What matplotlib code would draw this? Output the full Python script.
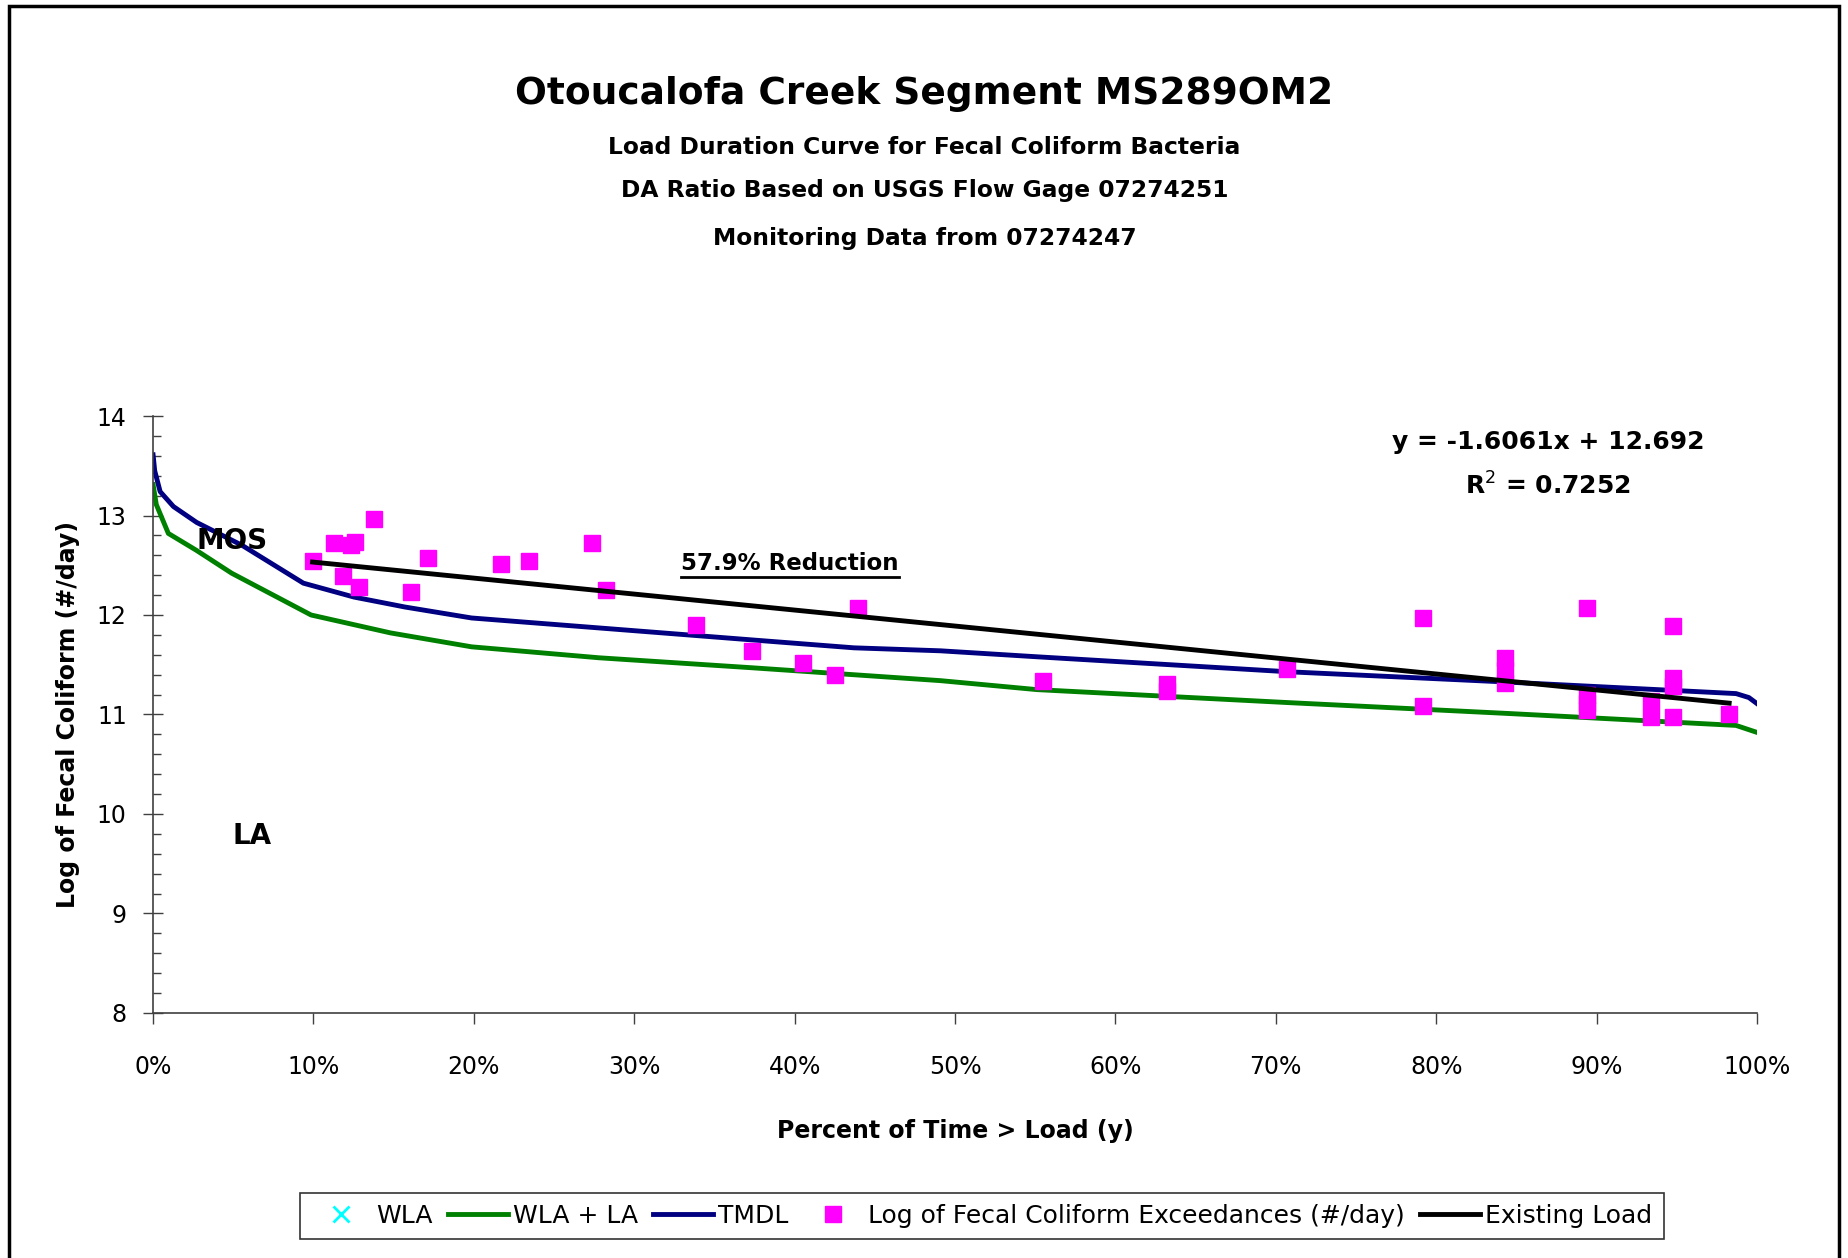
import numpy as np
import matplotlib.pyplot as plt
from matplotlib.ticker import MultipleLocator, PercentFormatter
from matplotlib.patches import Rectangle
from matplotlib.lines import Line2D

# flow duration percent (0-100) and log loads
tmdl_pct = [0, 0.1, 0.44, 1.27, 2.72, 5.55, 9.37, 12.53, 15.71, 19.86, 27.8,
            37.3, 43.7, 49.1, 55.1, 70.7, 83.9, 98.7, 99.5, 100]
tmdl_log = [13.61, 13.45, 13.24, 13.09, 12.93, 12.70, 12.32, 12.18, 12.08, 11.97,
            11.87, 11.75, 11.67, 11.64, 11.58, 11.43, 11.33, 11.21, 11.17, 11.11]

wla_la_pct = [0, 0.2, 0.95, 2.7, 4.9, 9.85, 14.8, 19.86, 27.8, 37.3, 49.1, 55.1,
              70.7, 84.5, 98.7, 100]
wla_la_log = [13.31, 13.11, 12.82, 12.65, 12.42, 12.00, 11.82, 11.68, 11.57,
              11.47, 11.34, 11.25, 11.12, 11.01, 10.89, 10.82]

exc_pct = [9.94, 11.25, 11.85, 12.33, 12.58, 12.84, 13.76, 16.05, 17.16, 21.68,
           23.46, 27.37, 28.23, 33.86, 37.36, 40.54, 42.51, 43.98, 55.49, 63.19,
           63.19, 70.69, 79.15, 79.15, 84.29, 84.29, 84.29, 89.38, 89.38, 89.38,
           89.38, 93.37, 93.37, 94.78, 94.78, 94.78, 94.78, 98.27]
exc_log = [12.54, 12.72, 12.39, 12.70, 12.73, 12.28, 12.96, 12.23, 12.57, 12.51,
           12.54, 12.72, 12.25, 11.90, 11.64, 11.52, 11.40, 12.07, 11.34, 11.31,
           11.24, 11.46, 11.97, 11.085, 11.57, 11.45, 11.32, 12.07, 11.20, 11.12,
           11.05, 11.14, 10.97, 11.89, 11.37, 11.29, 10.97, 11.00]

# trendline given on the chart
slope = -1.6061
intercept = 12.692
r2 = 0.7252

x_tmdl = np.array(tmdl_pct) / 100
x_wla = np.array(wla_la_pct) / 100
x_exc = np.array(exc_pct) / 100
x_fit = np.array([x_exc.min(), x_exc.max()])
y_fit = slope * x_fit + intercept

fig = plt.figure(figsize=(18.49, 12.58), dpi=100)
ax = fig.add_axes([0.0828, 0.1948, 0.8674, 0.4745])

ax.plot([], [], 'x', color='#00FFFF', ms=11, mew=2, label='WLA')
ax.plot(x_wla, wla_la_log, color='#008000', lw=3.5, label='WLA + LA')
ax.plot(x_tmdl, tmdl_log, color='#000080', lw=3.5, label='TMDL')
ax.plot(x_exc, exc_log, 's', color='#FF00FF', ms=11, mec='#FF00FF',
        label='Log of Fecal Coliform Exceedances (#/day)')
ax.plot(x_fit, y_fit, color='black', lw=3.5, label='Existing Load')

ax.set_xlim(0, 1)
ax.set_ylim(8, 14)
ax.xaxis.set_major_locator(MultipleLocator(0.1))
ax.xaxis.set_major_formatter(PercentFormatter(xmax=1, decimals=0))
ax.yaxis.set_major_locator(MultipleLocator(1))
ax.yaxis.set_minor_locator(MultipleLocator(0.2))

for s in ['top', 'right']:
    ax.spines[s].set_visible(False)
for s in ['left', 'bottom']:
    ax.spines[s].set_color('#404040')
    ax.spines[s].set_linewidth(1.2)

ax.tick_params(axis='x', which='major', direction='out', length=8, width=1,
               color='#404040', labelsize=17, pad=22)
ax.tick_params(axis='y', which='major', direction='inout', length=14, width=1,
               color='#404040', labelsize=17, pad=12)
ax.tick_params(axis='y', which='minor', direction='in', length=6, width=1,
               color='#404040')

ax.set_xlabel('Percent of Time > Load (y)', fontsize=17, fontweight='bold')
ax.xaxis.set_label_coords(0.5, -0.178)
ax.set_ylabel('Log of Fecal Coliform (#/day)', fontsize=17, fontweight='bold')
ax.yaxis.set_label_coords(-0.0455, 0.5)

fig.text(0.5, 1 - 94 / 1258, 'Otoucalofa Creek Segment MS289OM2', ha='center',
         va='center', fontsize=27, fontweight='bold')
fig.text(0.5, 1 - 148 / 1258, 'Load Duration Curve for Fecal Coliform Bacteria',
         ha='center', va='center', fontsize=16.8, fontweight='bold')
fig.text(0.5, 1 - 190 / 1258, 'DA Ratio Based on USGS Flow Gage 07274251',
         ha='center', va='center', fontsize=16.8, fontweight='bold')
fig.text(0.5, 1 - 238 / 1258, 'Monitoring Data from 07274247',
         ha='center', va='center', fontsize=16.8, fontweight='bold')

ax.text(0.049, 12.74, 'MOS', ha='center', va='center', fontsize=20,
        fontweight='bold')
ax.text(0.062, 9.78, 'LA', ha='center', va='center', fontsize=20,
        fontweight='bold')
red = ax.text(0.397, 12.52, '57.9% Reduction', ha='center', va='center',
              fontsize=16.5, fontweight='bold')
ax.text(0.87, 13.74, 'y = -1.6061x + 12.692', ha='center', va='center',
        fontsize=18, fontweight='bold')
ax.text(0.87, 13.30, 'R$^2$ = %.4f' % r2, ha='center', va='center',
        fontsize=18, fontweight='bold')

leg = fig.legend(loc='center', bbox_to_anchor=(0.531, 1 - 1216 / 1258), ncol=5,
                 fontsize=18, frameon=True, fancybox=False, edgecolor='black',
                 handlelength=2.4, handletextpad=0.2, columnspacing=0.6,
                 borderpad=0.45)
leg.get_frame().set_linewidth(1.2)

# underline for the reduction label
fig.canvas.draw()
bb = red.get_window_extent().transformed(fig.transFigure.inverted())
fig.add_artist(Line2D([bb.x0, bb.x1], [bb.y0 - 0.002, bb.y0 - 0.002],
                      color='black', lw=2))

# outer chart border
fig.patches.append(Rectangle((9 / 1849, -0.02), 1830 / 1849, 1.02 - 6 / 1258,
                             transform=fig.transFigure, fill=False,
                             edgecolor='black', lw=2.5))

fig.savefig('out.png', dpi=100)
